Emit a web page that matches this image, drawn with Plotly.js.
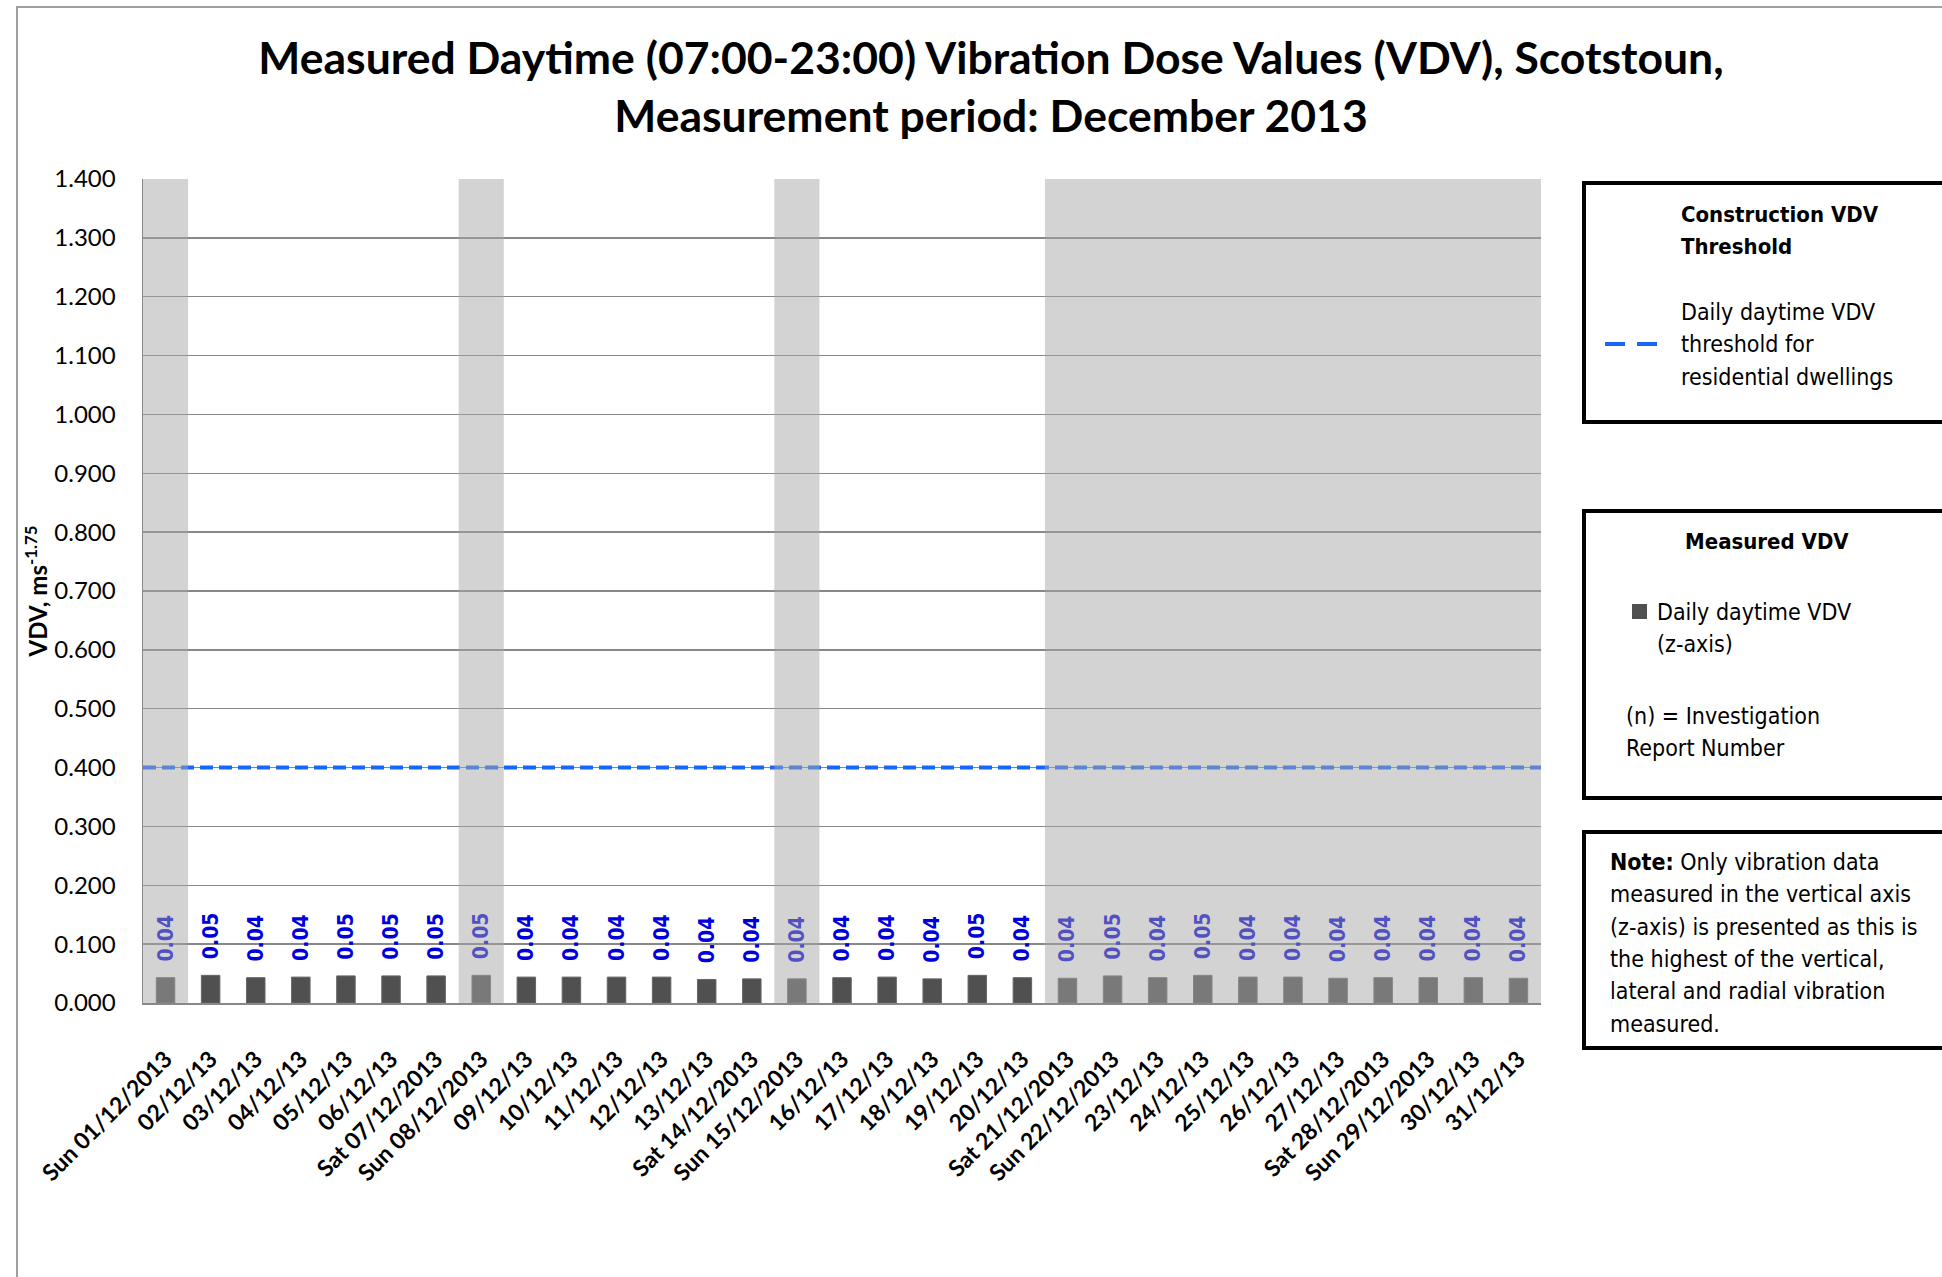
<!DOCTYPE html>
<html>
<head>
<meta charset="utf-8">
<script src="https://cdn.plot.ly/plotly-3.0.1.min.js"></script>
<style>html,body{margin:0;padding:0;background:#ffffff;}</style>
</head>
<body>
<div id="chart" style="width:1942px;height:1277px;"></div>
<script>
// ---------------- data ----------------
const days = [
  'Sun 01/12/2013','02/12/13','03/12/13','04/12/13','05/12/13','06/12/13','Sat 07/12/2013',
  'Sun 08/12/2013','09/12/13','10/12/13','11/12/13','12/12/13','13/12/13','Sat 14/12/2013',
  'Sun 15/12/2013','16/12/13','17/12/13','18/12/13','19/12/13','20/12/13','Sat 21/12/2013',
  'Sun 22/12/2013','23/12/13','24/12/13','25/12/13','26/12/13','27/12/13','Sat 28/12/2013',
  'Sun 29/12/2013','30/12/13','31/12/13'
];
const vdv = [
  0.043, 0.047, 0.043, 0.044, 0.046, 0.046, 0.046,
  0.047, 0.044, 0.044, 0.044, 0.044, 0.040, 0.041,
  0.041, 0.043, 0.044, 0.041, 0.047, 0.043, 0.042,
  0.046, 0.043, 0.047, 0.044, 0.044, 0.042, 0.043,
  0.043, 0.043, 0.042
];
// 1 = non-working day, shaded grey band
const shaded = [
  1,0,0,0,0,0,0,
  1,0,0,0,0,0,0,
  1,0,0,0,0,0,1,
  1,1,1,1,1,1,1,
  1,1,1
];
const threshold = 0.4;
const yMax = 1.4;

// ---------------- geometry helpers ----------------
const W = 1942, H = 1277;
const M = {l: 143, r: 401, t: 179, b: 274};
const PW = W - M.l - M.r, PH = H - M.t - M.b;
const px = v => (v - M.l) / PW;          // pixel x -> paper x
const py = v => (H - M.b - v) / PH;      // pixel y -> paper y

const LAT = 'Lato, "Open Sans", sans-serif';
const LEG = '"DejaVu Sans Condensed", "DejaVu Sans", sans-serif';
const shadeColor = 'rgba(165,165,165,0.49)';
const lineBlue = 'rgb(22,102,255)';

// ---------------- shapes ----------------
const shapes = [];
// outer chart frame
shapes.push({type:'rect', xref:'paper', yref:'paper', x0:px(17), x1:px(1990), y0:py(1320), y1:py(7),
  line:{color:'#a0a0a0', width:2}, fillcolor:'rgba(0,0,0,0)', layer:'below'});
// threshold line
shapes.push({type:'line', xref:'paper', yref:'y', x0:0, x1:1, y0:threshold, y1:threshold,
  line:{color:lineBlue, width:4, dash:'13px,6px'}, layer:'above'});
// shaded bands (runs of consecutive shaded days)
for (let i = 0; i < shaded.length; i++) {
  if (shaded[i]) {
    let j = i;
    while (j + 1 < shaded.length && shaded[j + 1]) j++;
    shapes.push({type:'rect', xref:'x', yref:'y', x0:i - 0.5, x1:j + 0.5, y0:0, y1:yMax,
      fillcolor:shadeColor, line:{width:0}, layer:'above'});
    i = j;
  }
}
// legend boxes
const boxes = [[183, 422], [511, 798], [832, 1048]];
boxes.forEach(b => shapes.push({type:'rect', xref:'paper', yref:'paper', x0:px(1584), x1:px(1990),
  y0:py(b[1]), y1:py(b[0]), line:{color:'#000', width:4}, fillcolor:'#fff', layer:'above'}));
// legend dash sample
shapes.push({type:'line', xref:'paper', yref:'paper', x0:px(1605), x1:px(1657), y0:py(344), y1:py(344),
  line:{color:lineBlue, width:4, dash:'20px,12px'}, layer:'above'});
// legend bar sample
shapes.push({type:'rect', xref:'paper', yref:'paper', x0:px(1632), x1:px(1647), y0:py(619), y1:py(604),
  fillcolor:'#505050', line:{width:0}, layer:'above'});

// ---------------- annotations (legend text) ----------------
const ann = [];
function txt(t, x, y, opts) {
  opts = opts || {};
  ann.push({text:t, xref:'paper', yref:'paper', x:px(x), y:py(y), showarrow:false,
    xanchor:opts.anchor || 'left', yanchor:'middle',
    font:{family:LEG, size:opts.size || 23, color:'#000', weight:opts.bold ? 700 : 400}});
}
txt('Construction VDV', 1679, 214, {bold:true, size:22});
txt('Threshold', 1679, 246, {bold:true, size:22});
txt('Daily daytime VDV', 1679, 312);
txt('threshold for', 1679, 344);
txt('residential dwellings', 1679, 377);
txt('Measured VDV', 1767, 541, {bold:true, size:22, anchor:'center'});
txt('Daily daytime VDV', 1655, 612);
txt('(z-axis)', 1655, 644);
txt('(n) = Investigation', 1624, 716);
txt('Report Number', 1624, 748);
const noteLines = ['<b>Note:</b> Only vibration data', 'measured in the vertical axis',
  '(z-axis) is presented as this is', 'the highest of the vertical,',
  'lateral and radial vibration', 'measured.'];
noteLines.forEach((l, k) => txt(l, 1608, 862 + k * 32.3));

// ---------------- traces ----------------
const traces = [{
  type:'bar', x:days, y:vdv,
  marker:{color:'#505050', line:{color:'#666666', width:1}},
  texttemplate:'\u00a0\u00a0%{y:.2f}', textposition:'outside', textangle:-90,
  constraintext:'none', cliponaxis:false,
  textfont:{family:LEG, size:21, color:'rgb(0,0,220)', weight:700},
  hoverinfo:'skip'
}];

const layout = {
  width:W, height:H, margin:M, paper_bgcolor:'#fff', plot_bgcolor:'#fff',
  showlegend:false, bargap:0.59,
  title:{text:'Measured Daytime (07:00-23:00) Vibration Dose Values (VDV), Scotstoun,<br>Measurement period: December 2013',
    x:991 / W, xanchor:'center', xref:'container', y:1 - 74 / H, yanchor:'top', yref:'container',
    font:{family:LAT, size:44.5, color:'#000', weight:700}},
  xaxis:{type:'category', showgrid:false, showline:true, linecolor:'#888', linewidth:1.5,
    ticks:'', tickangle:-45, tickfont:{family:LAT, size:23, color:'#000', weight:700},
    ticklabelstandoff:32, fixedrange:true},
  yaxis:{range:[0, yMax], dtick:0.1, tickformat:'.3f', showgrid:true, gridcolor:'#888', gridwidth:1.5,
    showline:true, linecolor:'#888', linewidth:1.5, zeroline:false, ticks:'',
    tickfont:{family:LAT, size:24, color:'#000'}, ticklabelstandoff:21,
    title:{text:'VDV, ms<sup>-1.75</sup>', font:{family:LAT, size:24, color:'#000', weight:700}},
    fixedrange:true},
  shapes:shapes, annotations:ann
};

Plotly.newPlot('chart', traces, layout, {displayModeBar:false, staticPlot:true});
</script>
</body>
</html>
